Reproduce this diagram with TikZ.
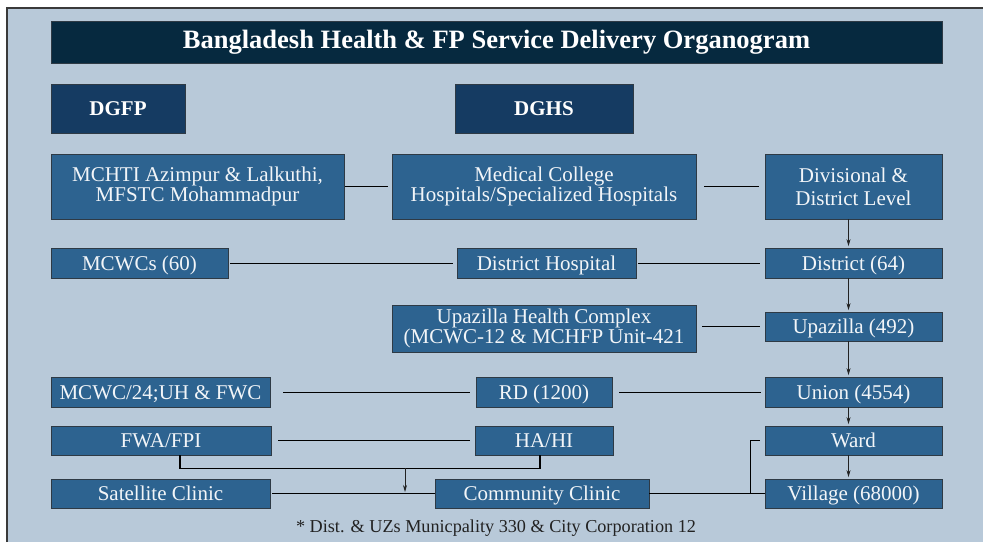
\documentclass[tikz,border=0pt]{standalone}
\usepackage{fontspec}
\setmainfont{Liberation Serif}
\usepackage{tikz}
\usetikzlibrary{arrows.meta}
\definecolor{bgc}{HTML}{B8C9D9}
\definecolor{ttl}{HTML}{06293F}
\definecolor{dkb}{HTML}{153B62}
\definecolor{mdb}{HTML}{2D6390}
\definecolor{edg}{HTML}{2E3A45}
\definecolor{frm}{HTML}{3A3A3A}
\definecolor{ink}{HTML}{222222}
\definecolor{txt}{HTML}{F2F5F8}
% one-line box: #1 name, #2/#3 centre, #4/#5 size, #6 text
\newcommand{\orgbox}[6]{%
  \node[box,one,minimum width=#4pt,minimum height=#5pt] (#1) at (#2,#3) {#6};}

\begin{document}
\begin{tikzpicture}[x=1pt,y=-1pt,
  box/.style={draw=edg,line width=0.8pt,fill=mdb,text=txt,inner sep=0pt,
    align=center,font=\fontsize{21}{19}\selectfont},
  one/.style={text height=14pt,text depth=0pt},
  head/.style={box,one,fill=dkb,text=white,font=\bfseries\fontsize{21}{24}\selectfont},
  link/.style={draw=black,line width=0.9pt},
  bracket/.style={draw=black,line width=1.5pt},
  arr/.style={draw=ink,line width=0.7pt,shorten >=1.5pt,-{Stealth[length=7pt,width=4pt]}}]
\useasboundingbox (0,0) rectangle (983,542);
% page frame
\fill[white] (0,0) rectangle (983,542);
\fill[bgc] (7,8) rectangle (983,542);
\draw[frm,line width=1.5pt] (7,542) -- (7,8) -- (983,8);

\node[box,fill=ttl,text=white,font=\bfseries\fontsize{26.5}{30}\selectfont,
  minimum width=891pt,minimum height=42pt] (title) at (496.5,42)
  {Bangladesh Health \& FP Service Delivery Organogram};
\node[head,minimum width=134pt,minimum height=49pt] (dgfp) at (118,108.5) {DGFP};
\node[head,minimum width=178pt,minimum height=49pt] (dghs) at (544,108.5) {DGHS};

% left column (FP side)
\node[box,minimum width=293pt,minimum height=65pt] (mchti) at (197.5,186.5)
  {MCHTI Azimpur \& Lalkuthi,\\MFSTC Mohammadpur};
\orgbox{mcwcs}{139.5}{263}{177}{30}{MCWCs (60)}
\orgbox{mcwc24}{160.5}{392}{219}{30}{MCWC/24;UH \& FWC}
\orgbox{fwa}{161}{440.5}{220}{29}{FWA/FPI}
\orgbox{sat}{160.5}{493.5}{219}{29}{Satellite Clinic}

% middle column (health side)
\node[box,minimum width=304pt,minimum height=65pt] (mch) at (544,186.5)
  {Medical College\\Hospitals/Specialized Hospitals};
\orgbox{dhosp}{546.5}{263}{179}{30}{District Hospital}
\node[box,minimum width=304pt,minimum height=47pt] (uhc) at (544,328.5)
  {Upazilla Health Complex\\(MCWC-12 \& MCHFP Unit-421};
\orgbox{rd}{544}{392}{136}{30}{RD (1200)}
\orgbox{hahi}{544}{440.5}{138}{29}{HA/HI}
\orgbox{cc}{542}{493.5}{214}{29}{Community Clinic}

% administrative levels
\node[box,minimum width=177pt,minimum height=65pt] (divl) at (853.5,186.5)
  {Divisional \&\\[4pt]District Level};
\orgbox{dist}{853.5}{263}{177}{30}{District (64)}
\orgbox{upz}{853.5}{326.5}{177}{29}{Upazilla (492)}
\orgbox{union}{853.5}{392}{177}{30}{Union (4554)}
\orgbox{ward}{853.5}{440.5}{177}{29}{Ward}
\orgbox{vil}{853.5}{493.5}{177}{29}{Village (68000)}

\foreach \a/\b in {divl/dist,dist/upz,upz/union,union/ward,ward/vil}
  \draw[arr] ([xshift=-5pt]\a.south) -- ([xshift=-5pt]\b.north);

% horizontal links
\draw[link,shorten <=1pt,shorten >=4pt] (mchti.east) -- (mch.west);
\draw[link,shorten <=8pt,shorten >=6pt] (mch.east) -- (divl.west);
\draw[link,shorten <=2pt,shorten >=4pt] (mcwcs.east) -- (dhosp.west);
\draw[link,shorten <=2pt,shorten >=5pt] (dhosp.east) -- (dist.west);
\draw[link,shorten <=5pt,shorten >=6pt] (upz.west) -- (upz.west -| uhc.east);
\draw[link,shorten <=13pt,shorten >=6pt] (mcwc24.east) -- (rd.west);
\draw[link,shorten <=7pt,shorten >=4pt] (rd.east) -- (union.west);
\draw[link,shorten <=7pt,shorten >=5pt] (fwa.east) -- (hahi.west);
\draw[link,shorten <=2pt] (sat.east) -- (cc.west);
\draw[link] (cc.east) -- (vil.west);

% FWA/FPI and HA/HI both feed the clinics
\draw[bracket] ([xshift=19pt]fwa.south) -- ++(0,13) coordinate (jn)
  -| ([xshift=-4pt]hahi.south);
\coordinate (fork) at (405,468);
\coordinate (drop) at (405,492);
\draw[arr,shorten >=0pt] (fork) -- (drop);

% ward tap on the village line
\coordinate (tap) at (750,493.5);
\draw[link] (tap) |- ([xshift=-5pt]ward.west);

\node[text=ink,font=\fontsize{18.2}{20}\selectfont] (note) at (496,528.5)
  {* Dist. \& UZs Municpality 330 \& City Corporation 12};
\end{tikzpicture}
\end{document}
